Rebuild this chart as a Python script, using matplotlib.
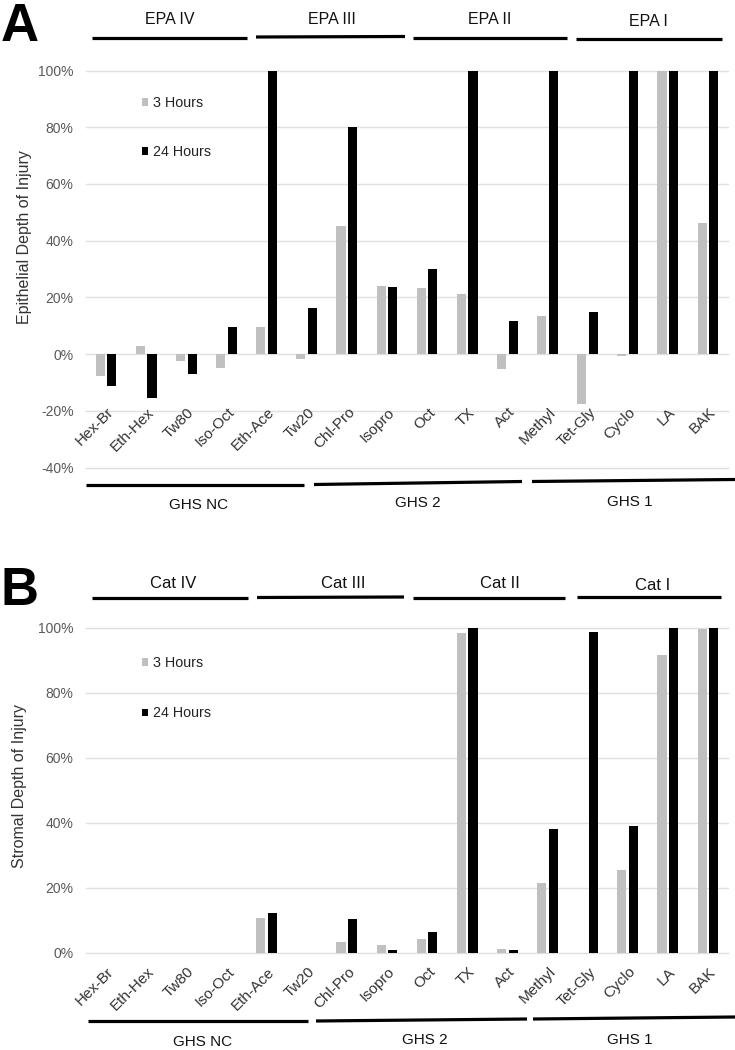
import matplotlib
matplotlib.use('Agg')
import matplotlib.pyplot as plt
from matplotlib.lines import Line2D
from matplotlib.ticker import FuncFormatter
import numpy as np

plt.rcParams['font.family'] = ['Liberation Sans', 'DejaVu Sans']

# ---------------- data ----------------
categories = ['Hex-Br', 'Eth-Hex', 'Tw80', 'Iso-Oct', 'Eth-Ace', 'Tw20', 'Chl-Pro', 'Isopro',
              'Oct', 'TX', 'Act', 'Methyl', 'Tet-Gly', 'Cyclo', 'LA', 'BAK']
epi_3h = [-7.9, 2.9, -2.5, -4.9, 9.5, -1.6, 45.0, 24.1, 23.3, 21.2, -5.1, 13.3, -17.5, -0.8, 100, 46.2]
epi_24h = [-11.2, -15.4, -7.1, 9.5, 100, 16.2, 80.0, 23.6, 29.9, 100, 11.6, 100, 14.9, 100, 100, 100]
str_3h = [0, 0, 0, 0, 10.8, 0, 3.4, 2.4, 4.2, 98.5, 1.2, 21.3, 0, 25.3, 91.5, 99.5]
str_24h = [0, 0, 0, 0, 12.2, 0, 10.4, 0.8, 6.4, 100, 0.8, 38.2, 98.8, 38.9, 100, 100]
series_labels = ['3 Hours', '24 Hours']
epa_groups = ['EPA IV', 'EPA III', 'EPA II', 'EPA I']
cat_groups = ['Cat IV', 'Cat III', 'Cat II', 'Cat I']
ghs_groups = ['GHS NC', 'GHS 2', 'GHS 1']
epi_ticks = [-40, -20, 0, 20, 40, 60, 80, 100]
str_ticks = [0, 20, 40, 60, 80, 100]

# ---------------- style ----------------
W, H = 735, 1050
GREY = '#c0c0c0'
BLACK = '#000000'
GRID = '#e0e0e0'
TICKC = '#595959'

fig = plt.figure(figsize=(W / 100, H / 100), dpi=100)


def fx(x):
    return x / W


def fy(y):
    return 1 - y / H


def axes_px(left, top, right, bottom):
    return fig.add_axes([fx(left), fy(bottom), (right - left) / W, (bottom - top) / H])


def hline(x0, y0, x1, y1):
    fig.add_artist(Line2D([fx(x0), fx(x1)], [fy(y0), fy(y1)], transform=fig.transFigure,
                          color='black', lw=2.3, solid_capstyle='butt'))


def label(x, y, s, size=11.5):
    fig.text(fx(x), fy(y), s, ha='center', va='center', fontsize=size, color='#111111')


x = np.arange(len(categories))
bw = 0.23
off = 0.145


def draw_panel(ax, v3, v24, ticks, lab_y):
    ax.bar(x - off, v3, bw, color=GREY, zorder=3, label=series_labels[0])
    ax.bar(x + off, v24, bw, color=BLACK, zorder=3, label=series_labels[1])
    ax.set_xlim(-0.5, len(categories) - 0.5)
    ax.set_ylim(ticks[0], ticks[-1])
    ax.set_yticks(ticks)
    ax.yaxis.set_major_formatter(FuncFormatter(lambda v, p: f'{v:.0f}%'))
    ax.tick_params(axis='y', length=0, pad=9, labelsize=10, labelcolor=TICKC)
    ax.set_xticks([])
    for s in ax.spines.values():
        s.set_visible(False)
    for t in ticks:
        ax.axhline(t, color=GRID, lw=1.0, zorder=1, clip_on=False)
    for i, c in enumerate(categories):
        ax.text(i + 0.02, lab_y, c, rotation=45, rotation_mode='anchor', ha='right', va='top',
                fontsize=11, color='#333333', clip_on=False, zorder=4)


# ---------------- panel A ----------------
axA = axes_px(86, 70.5, 728, 467.5)
draw_panel(axA, epi_3h, epi_24h, epi_ticks, -18.0)
legA = axA.legend(loc='upper left', bbox_to_anchor=(fx(142), fy(96)), bbox_transform=fig.transFigure,
                  frameon=False, fontsize=10.3, handlelength=0.45, handleheight=0.45,
                  handletextpad=0.3, labelspacing=2.45, borderpad=0, borderaxespad=0)
for t in legA.get_texts():
    t.set_color('#222222')
fig.text(fx(24), fy(237), 'Epithelial Depth of Injury', rotation=90, ha='center', va='center',
         fontsize=11.5, color='#333333')

# ---------------- panel B ----------------
axB = axes_px(86, 627.7, 728, 952.7)
draw_panel(axB, str_3h, str_24h, str_ticks, -3.7)
legB = axB.legend(loc='upper left', bbox_to_anchor=(fx(142), fy(656)), bbox_transform=fig.transFigure,
                  frameon=False, fontsize=10.3, handlelength=0.45, handleheight=0.45,
                  handletextpad=0.3, labelspacing=2.55, borderpad=0, borderaxespad=0)
for t in legB.get_texts():
    t.set_color('#222222')
fig.text(fx(20), fy(786), 'Stromal Depth of Injury', rotation=90, ha='center', va='center',
         fontsize=11.5, color='#333333')

# ---------------- brackets ----------------
# Panel A top (EPA)
for (x0, y0, x1, y1), (lx, ly), s in zip(
        [(92, 38, 247, 38), (256, 37, 405, 36.5), (413, 37.5, 567, 37.5), (576, 38.5, 722, 38.5)],
        [(170, 20), (332, 19), (490, 19), (648, 21)], epa_groups):
    hline(x0, y0, x1, y1)
    label(lx, ly, s)
# Panel A bottom (GHS)
for (x0, y0, x1, y1), (lx, ly), s in zip(
        [(86, 485, 304, 485), (314, 484.5, 522, 481.5), (532, 481.5, 735, 479.5)],
        [(199, 505), (418, 503), (630, 502)], ghs_groups):
    hline(x0, y0, x1, y1)
    label(lx, ly, s, 11)
# Panel B top (Cat)
for (x0, y0, x1, y1), (lx, ly), s in zip(
        [(92, 598, 248, 598), (257, 597.5, 404, 597), (413, 597.5, 565, 597.5), (577, 596.5, 721, 596.5)],
        [(173, 584), (343, 583), (500, 583), (653, 586)], cat_groups):
    hline(x0, y0, x1, y1)
    label(lx, ly, s, 12)
# Panel B bottom (GHS)
for (x0, y0, x1, y1), (lx, ly), s in zip(
        [(88, 1021, 308, 1021), (316, 1021, 527, 1019), (533, 1019, 735, 1017)],
        [(203, 1042), (425, 1040), (630, 1040)], ghs_groups):
    hline(x0, y0, x1, y1)
    label(lx, ly, s, 11)

# Panel letters
fig.text(fx(1), fy(41), 'A', fontsize=38, fontweight='bold', ha='left', va='baseline')
fig.text(fx(1), fy(605), 'B', fontsize=38, fontweight='bold', ha='left', va='baseline')

fig.savefig('out.png', dpi=100)
